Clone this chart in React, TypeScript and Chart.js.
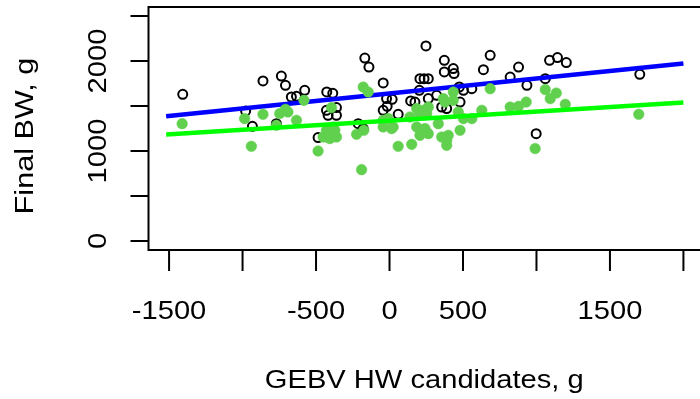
import React, { useEffect, useRef } from "react";
import { Chart, registerables } from "chart.js";

Chart.register(...registerables);

// Observed (black open circles)
const blackX = [-1407, -861, -736, -708, -668, -633, -577, -979, -933, -770, -486, -427, -386, -168, -140, -43, -429, -361, -418, -361, -213, -179, -20, 18, -43, -16, 59, 144, 173, 207, 235, 264, 248, 373, 373, 434, 439, 685, 639, 203, 321, 264, 475, 503, 560, 480, 355, 389, 821, 878, 935, 1060, 1089, 1143, 1203, 1703, 998];
const blackY = [1630, 1778, 1833, 1730, 1600, 1608, 1674, 1444, 1274, 1304, 1149, 1656, 1641, 2033, 1933, 1756, 1452, 1482, 1397, 1397, 1304, 1249, 1582, 1574, 1452, 1497, 1408, 1556, 1544, 1804, 1804, 1804, 2167, 2008, 1878, 1916, 1860, 2063, 1904, 1674, 1619, 1582, 1711, 1674, 1693, 1544, 1489, 1471, 1822, 1933, 1730, 1804, 2008, 2038, 1982, 1852, 1193];

// Second group (green filled circles)
const greenX = [-1411, -986, -940, -861, -747, -708, -691, -633, -770, -582, -486, -395, -429, -372, -429, -361, -406, -224, -175, -190, -179, -145, -43, -9, 25, -43, 59, 151, 139, 185, 185, 434, 366, 378, 434, 230, 264, 207, 253, 468, 628, 685, 503, 560, 332, 241, 264, 207, 480, 355, 389, 400, 389, 821, 878, 930, 1060, 1094, 1135, 1196, 1696, 991, -384, -452, 14];
const greenY = [1304, 1360, 1052, 1408, 1416, 1463, 1433, 1341, 1286, 1563, 1000, 1482, 1230, 1230, 1156, 1156, 1138, 1186, 1230, 793, 1711, 1656, 1341, 1360, 1267, 1267, 1052, 1074, 1378, 1471, 1267, 1656, 1582, 1544, 1563, 1452, 1489, 1416, 1416, 1433, 1452, 1693, 1360, 1360, 1304, 1249, 1193, 1174, 1230, 1156, 1119, 1174, 1063, 1489, 1497, 1544, 1682, 1582, 1644, 1519, 1408, 1027, 1267, 1156, 1249];

// Regression lines
const blueLineX = [-1520, 2000];
const blueLineY = [1385, 1971];
const greenLineX = [-1520, 2000];
const greenLineY = [1182, 1538];

// Axes
const xTicks = [-1500, -1000, -500, 0, 500, 1000, 1500, 2000];
const xTickLabels = ["-1500", "", "-500", "0", "500", "", "1500", ""];
const yTicks = [0, 500, 1000, 1500, 2000, 2500];
const yTickLabels = ["0", "", "1000", "", "2000", ""];
const xTitle = "GEBV HW candidates, g";
const yTitle = "Final BW, g";
const xRange = [-1640, 2140];
const yRange = [-100, 2600];

const FONT = '26px "Liberation Sans", Arial, sans-serif';
const STRETCH = 1.12;

const toPts = (xs: number[], ys: number[]) => xs.map((x, i) => ({ x, y: ys[i] }));

function drawText(ctx: CanvasRenderingContext2D, text: string, x: number, y: number, rotated: boolean, stretch: number) {
  ctx.save();
  ctx.translate(x, y);
  if (rotated) ctx.rotate(-Math.PI / 2);
  ctx.scale(stretch, 1);
  ctx.fillText(text, 0, 0);
  ctx.restore();
}

export default function App() {
  const ref = useRef<HTMLCanvasElement>(null);

  useEffect(() => {
    const canvas = ref.current;
    if (!canvas) return;

    const axisPlugin = {
      id: "rAxes",
      afterDraw(chart: any) {
        const ctx = chart.ctx as CanvasRenderingContext2D;
        const { left, right, top, bottom } = chart.chartArea;
        const xs = chart.scales.x;
        const ys = chart.scales.y;
        ctx.save();
        ctx.strokeStyle = "#000";
        ctx.fillStyle = "#000";
        ctx.lineWidth = 2;
        ctx.lineCap = "butt";
        ctx.strokeRect(left, top, right - left, bottom - top);
        ctx.font = FONT;
        ctx.textAlign = "center";
        ctx.textBaseline = "alphabetic";
        xTicks.forEach((v, i) => {
          const px = xs.getPixelForValue(v);
          ctx.beginPath();
          ctx.moveTo(px, bottom);
          ctx.lineTo(px, bottom + 21);
          ctx.stroke();
          if (xTickLabels[i]) drawText(ctx, xTickLabels[i], px, 319, false, STRETCH);
        });
        yTicks.forEach((v, i) => {
          const py = ys.getPixelForValue(v);
          ctx.beginPath();
          ctx.moveTo(left, py);
          ctx.lineTo(left - 18, py);
          ctx.stroke();
          if (yTickLabels[i]) drawText(ctx, yTickLabels[i], 106, py, true, STRETCH);
        });
        drawText(ctx, xTitle, (left + right) / 2 - 2, 388, false, STRETCH);
        drawText(ctx, yTitle, 33, 136, true, 1.18);
        ctx.restore();
      },
    };

    const chart = new Chart(canvas, {
      type: "scatter",
      data: {
        datasets: [
          {
            label: "observed",
            data: toPts(blackX, blackY),
            pointStyle: "circle",
            pointRadius: 4.5,
            pointBorderWidth: 2,
            pointBorderColor: "#000000",
            pointBackgroundColor: "rgba(0,0,0,0)",
            showLine: false,
            order: 4,
          },
          {
            label: "blue fit",
            data: toPts(blueLineX, blueLineY),
            showLine: true,
            borderColor: "#0000FF",
            borderWidth: 4.5,
            pointRadius: 0,
            order: 3,
          },
          {
            label: "green",
            data: toPts(greenX, greenY),
            pointStyle: "circle",
            pointRadius: 5.3,
            pointBorderWidth: 0.5,
            pointBorderColor: "#61D04F",
            pointBackgroundColor: "#61D04F",
            showLine: false,
            order: 2,
          },
          {
            label: "green fit",
            data: toPts(greenLineX, greenLineY),
            showLine: true,
            borderColor: "#00FF00",
            borderWidth: 4.5,
            pointRadius: 0,
            order: 1,
          },
        ],
      },
      options: {
        responsive: false,
        animation: false,
        devicePixelRatio: 1,
        layout: { padding: { left: 148.5, top: 7, right: 16, bottom: 149 } },
        plugins: { legend: { display: false }, tooltip: { enabled: false }, title: { display: false } },
        scales: {
          x: { type: "linear", min: xRange[0], max: xRange[1], display: false },
          y: { type: "linear", min: yRange[0], max: yRange[1], display: false },
        },
      },
      plugins: [axisPlugin],
    });

    return () => chart.destroy();
  }, []);

  return (
    <div style={{ position: "fixed", left: 0, top: 0, width: 700, height: 399, overflow: "hidden", background: "#fff" }}>
      <canvas ref={ref} width={720} height={399} style={{ display: "block" }} />
    </div>
  );
}
